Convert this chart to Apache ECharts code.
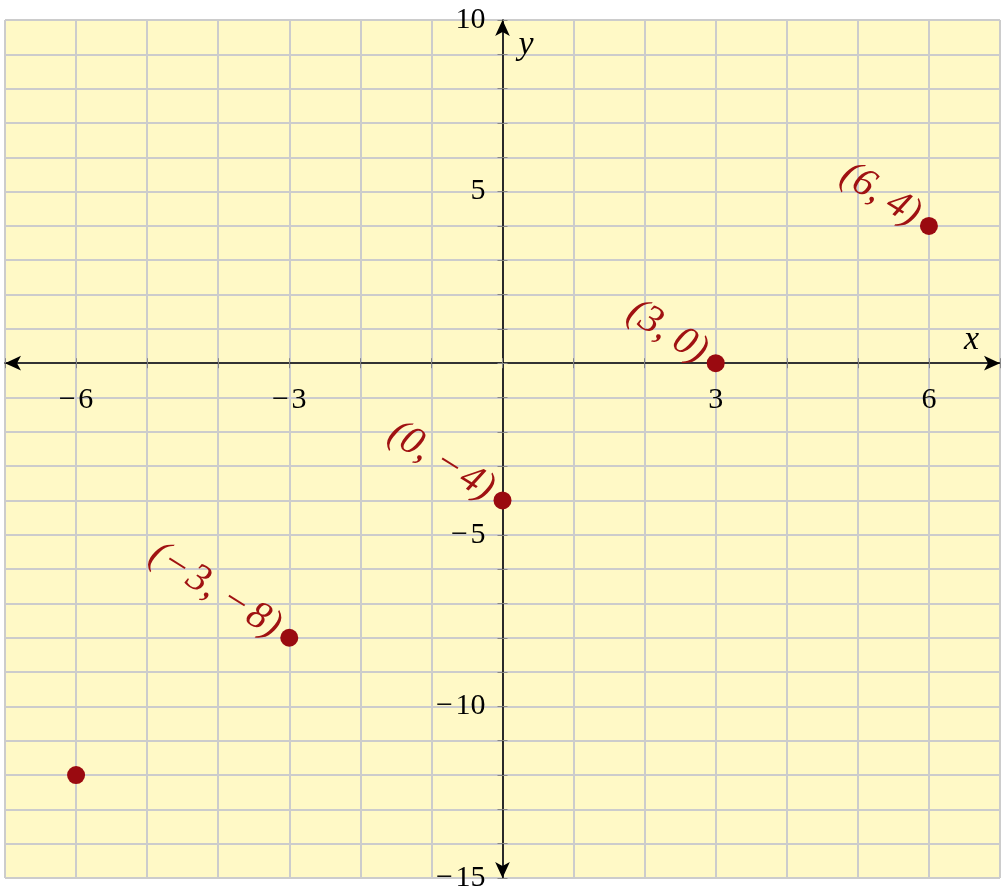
<!DOCTYPE html>
<html>
<head>
<meta charset="utf-8">
<script src="https://cdn.jsdelivr.net/npm/echarts@6/dist/echarts.min.js"></script>
<style>html,body{margin:0;padding:0;background:#fff;}#c{width:1008px;height:892px;}</style>
</head>
<body>
<div id="c"></div>
<script>
const xValues = [-6, -3, 0, 3, 6];
const yValues = [-12, -8, -4, 0, 4];
const pointLabeled = [false, true, true, true, true];
const xTickLabels = [-6, -3, 3, 6];
const yTickLabels = [-15, -10, -5, 5, 10];
const xRange = [-7, 7];
const yRange = [-15, 10];

const W = 1008, H = 892;
const G = { left: 5, right: 8, top: 20, bottom: 14 };
const gw = W - G.left - G.right, gh = H - G.top - G.bottom;
// distance from grid edge to the zero lines (axes cross at origin)
const xAxisOffset = -(gh * (0 - yRange[0]) / (yRange[1] - yRange[0]));
const yAxisOffset = -(gw * (0 - xRange[0]) / (xRange[1] - xRange[0]));

const fmt = v => String(v).replace('-', '\u2212\u200A');
const serif = "'Liberation Serif', 'DejaVu Serif', serif";
const ptColor = '#9a0a10';
const lblColor = '#a01212';

const data = xValues.map((x, i) => ({
  value: [x, yValues[i]],
  label: { show: pointLabeled[i] }
}));

function xAxisDef(main) {
  return {
    type: 'value', min: xRange[0], max: xRange[1], interval: 1,
    position: 'bottom', offset: xAxisOffset,
    axisLine: main ? { show: true, onZero: false, symbol: ['arrow', 'arrow'], symbolSize: [11, 16],
      lineStyle: { color: '#000', width: 1.6 } } : { show: false, onZero: false },
    axisTick: { show: true, inside: !main, length: 5, lineStyle: { color: '#888', width: 1 } },
    axisLabel: main ? { show: true, margin: 22, fontFamily: serif, fontSize: 30, color: '#000',
      showMinLabel: true, showMaxLabel: true,
      formatter: v => xTickLabels.includes(v) ? fmt(v) : '' } : { show: false },
    splitLine: { show: main, lineStyle: { color: '#cccccc', width: 2 } },
    name: main ? 'x' : '', nameLocation: 'end', nameGap: -36,
    nameTextStyle: { fontFamily: serif, fontStyle: 'italic', fontSize: 34, color: '#000',
      verticalAlign: 'bottom', padding: [0, 0, 6, 0] }
  };
}
function yAxisDef(main) {
  return {
    type: 'value', min: yRange[0], max: yRange[1], interval: 1,
    position: 'left', offset: yAxisOffset,
    axisLine: main ? { show: true, onZero: false, symbol: ['arrow', 'arrow'], symbolSize: [11, 16],
      lineStyle: { color: '#000', width: 1.6 } } : { show: false, onZero: false },
    axisTick: { show: true, inside: !main, length: 5, lineStyle: { color: '#888', width: 1 } },
    axisLabel: main ? { show: true, margin: 17, fontFamily: serif, fontSize: 30, color: '#000',
      showMinLabel: true, showMaxLabel: true,
      formatter: v => yTickLabels.includes(v) ? fmt(v) : '' } : { show: false },
    splitLine: { show: main, lineStyle: { color: '#cccccc', width: 2 } },
    name: main ? 'y' : '', nameLocation: 'end', nameGap: -42,
    nameTextStyle: { fontFamily: serif, fontStyle: 'italic', fontSize: 34, color: '#000',
      align: 'left', verticalAlign: 'bottom', padding: [0, 0, 0, 16] }
  };
}

const chart = echarts.init(document.getElementById('c'), null, { renderer: 'canvas' });
chart.setOption({
  animation: false,
  grid: { left: G.left, right: G.right, top: G.top, bottom: G.bottom, show: true, backgroundColor: '#fff9c6',
    borderWidth: 0, containLabel: false, outerBoundsMode: 'none' },
  xAxis: [xAxisDef(true), xAxisDef(false)],
  yAxis: [yAxisDef(true), yAxisDef(false)],
  series: [{
    type: 'scatter', xAxisIndex: 0, yAxisIndex: 0,
    symbol: 'circle', symbolSize: 18,
    itemStyle: { color: ptColor, opacity: 1 },
    label: {
      show: true, position: 'left', distance: 8, rotate: -32,
      align: 'right', verticalAlign: 'middle', offset: [0, -10],
      fontFamily: serif, fontStyle: 'italic', fontSize: 40, color: lblColor,
      formatter: p => '(' + fmt(p.value[0]) + ', ' + fmt(p.value[1]) + ')'
    },
    data: data
  }]
});
</script>
</body>
</html>
